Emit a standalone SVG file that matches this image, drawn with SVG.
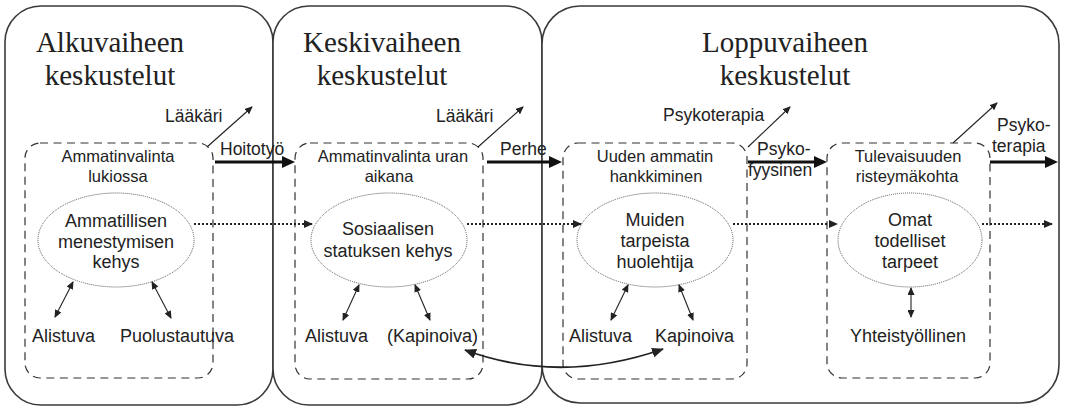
<svg xmlns="http://www.w3.org/2000/svg" width="1065" height="408" viewBox="0 0 1065 408">
<style>
.phase{fill:#fff;stroke:#3a3a3a;stroke-width:1.6}
.title{font-family:"Liberation Serif","Times New Roman",serif;font-size:29px;fill:#222;text-anchor:middle}
.dash{fill:none;stroke:#333;stroke-width:1.2;stroke-dasharray:8 5.5}
.ell{fill:#fff;stroke:#555;stroke-width:1;stroke-dasharray:1 1}
.lbl{font-family:"Liberation Sans",Arial,sans-serif;font-size:17.5px;fill:#222}
.bl{font-family:"Liberation Sans",Arial,sans-serif;font-size:18px;fill:#222}
.hd{font-family:"Liberation Sans",Arial,sans-serif;font-size:16.5px;fill:#222;text-anchor:middle}
.el{font-family:"Liberation Sans",Arial,sans-serif;font-size:18px;fill:#222;text-anchor:middle}
.thin{fill:none;stroke:#222;stroke-width:1.1}
.thick{fill:none;stroke:#111;stroke-width:3}
.dot{fill:none;stroke:#222;stroke-width:2;stroke-dasharray:2 2}
</style>
<defs>
<marker id="big" markerUnits="userSpaceOnUse" markerWidth="14" markerHeight="12" refX="3" refY="6" orient="auto"><path d="M0,0 L13,6 L0,12 z" fill="#111"/></marker>
<marker id="sm" markerUnits="userSpaceOnUse" markerWidth="8" markerHeight="7" refX="7" refY="3.5" orient="auto-start-reverse"><path d="M0,0 L8,3.5 L0,7 z" fill="#222"/></marker>
<marker id="dh" markerUnits="userSpaceOnUse" markerWidth="9" markerHeight="8" refX="8" refY="4" orient="auto"><path d="M0,0 L9,4 L0,8 z" fill="#222"/></marker>
<marker id="cv" markerUnits="userSpaceOnUse" markerWidth="12" markerHeight="10" refX="11" refY="5" orient="auto-start-reverse"><path d="M0,0 L12,5 L0,10 z" fill="#222"/></marker>
</defs>

<g id="phase-alku">
<rect class="phase" x="5" y="6" width="268" height="399" rx="36" ry="36"/>
<text class="title" x="110" y="52">Alkuvaiheen</text>
<text class="title" x="110" y="85">keskustelut</text>
</g>
<g id="phase-keski">
<rect class="phase" x="273" y="6" width="269" height="399" rx="36" ry="36"/>
<text class="title" x="382" y="52">Keskivaiheen</text>
<text class="title" x="382" y="85">keskustelut</text>
</g>
<g id="phase-loppu">
<rect class="phase" x="542" y="6" width="517" height="397" rx="38" ry="38"/>
<text class="title" x="785" y="52">Loppuvaiheen</text>
<text class="title" x="785" y="85">keskustelut</text>
</g>

<g id="stage1">
<rect class="dash" x="25" y="143" width="188" height="235" rx="15" ry="15"/>
<text class="hd" x="118" y="162">Ammatinvalinta</text>
<text class="hd" x="118" y="182">lukiossa</text>
<ellipse class="ell" cx="116" cy="240" rx="78" ry="47"/>
<text class="el" x="116" y="227">Ammatillisen</text>
<text class="el" x="116" y="248">menestymisen</text>
<text class="el" x="116" y="268">kehys</text>
<text class="bl" x="32" y="342">Alistuva</text>
<text class="bl" x="120" y="342">Puolustautuva</text>
</g>

<g id="stage2">
<rect class="dash" x="295" y="143" width="188" height="236" rx="15" ry="15"/>
<text class="hd" x="393" y="162">Ammatinvalinta uran</text>
<text class="hd" x="389" y="182">aikana</text>
<ellipse class="ell" cx="389" cy="240" rx="78" ry="47"/>
<text class="el" x="388" y="235">Sosiaalisen</text>
<text class="el" x="388" y="257">statuksen kehys</text>
<text class="bl" x="305" y="342">Alistuva</text>
<text class="bl" x="387" y="342">(Kapinoiva)</text>
</g>

<g id="stage3">
<rect class="dash" x="563" y="143" width="184" height="236" rx="15" ry="15"/>
<text class="hd" x="655" y="162">Uuden ammatin</text>
<text class="hd" x="656" y="182">hankkiminen</text>
<ellipse class="ell" cx="655" cy="240" rx="78" ry="47"/>
<text class="el" x="655" y="226">Muiden</text>
<text class="el" x="655" y="247">tarpeista</text>
<text class="el" x="655" y="268">huolehtija</text>
<text class="bl" x="569" y="342">Alistuva</text>
<text class="bl" x="655" y="342">Kapinoiva</text>
</g>

<g id="stage4">
<rect class="dash" x="827" y="143" width="163" height="235" rx="15" ry="15"/>
<text class="hd" x="908" y="162">Tulevaisuuden</text>
<text class="hd" x="907" y="182">risteymäkohta</text>
<ellipse class="ell" cx="910" cy="240" rx="72" ry="47"/>
<text class="el" x="910" y="226">Omat</text>
<text class="el" x="910" y="247">todelliset</text>
<text class="el" x="910" y="268">tarpeet</text>
<text class="bl" x="908" y="342" text-anchor="middle">Yhteistyöllinen</text>
</g>

<g id="connectors">
<line class="thin" x1="207" y1="147" x2="252" y2="107" marker-end="url(#sm)"/>
<text class="lbl" x="165" y="122">Lääkäri</text>
<line class="thick" x1="215" y1="162" x2="285" y2="162" marker-end="url(#big)"/>
<text class="lbl" x="220" y="155">Hoitotyö</text>
<line class="dot" x1="194" y1="224" x2="312" y2="224" marker-end="url(#dh)"/>
<line class="thin" x1="73" y1="282" x2="55" y2="317" marker-start="url(#sm)" marker-end="url(#sm)"/>
<line class="thin" x1="152" y1="282" x2="171" y2="318" marker-start="url(#sm)" marker-end="url(#sm)"/>

<line class="thin" x1="478" y1="147" x2="523" y2="107" marker-end="url(#sm)"/>
<text class="lbl" x="436" y="122">Lääkäri</text>
<line class="thick" x1="487" y1="162" x2="552" y2="162" marker-end="url(#big)"/>
<text class="lbl" x="500" y="155">Perhe</text>
<line class="dot" x1="467" y1="224" x2="581" y2="224" marker-end="url(#dh)"/>
<line class="thin" x1="359" y1="285" x2="343" y2="320" marker-start="url(#sm)" marker-end="url(#sm)"/>
<line class="thin" x1="415" y1="285" x2="430" y2="320" marker-start="url(#sm)" marker-end="url(#sm)"/>

<line class="thin" x1="748" y1="147" x2="790" y2="107" marker-end="url(#sm)"/>
<text class="lbl" x="663" y="121">Psykoterapia</text>
<line class="thick" x1="748" y1="162" x2="817" y2="162" marker-end="url(#big)"/>
<text class="lbl" x="757" y="155">Psyko-</text>
<text class="lbl" x="748" y="176">fyysinen</text>
<line class="dot" x1="733" y1="224" x2="837" y2="224" marker-end="url(#dh)"/>
<line class="thin" x1="628" y1="285" x2="611" y2="320" marker-start="url(#sm)" marker-end="url(#sm)"/>
<line class="thin" x1="679" y1="285" x2="693" y2="320" marker-start="url(#sm)" marker-end="url(#sm)"/>

<line class="thin" x1="953" y1="143" x2="997" y2="103" marker-end="url(#sm)"/>
<line class="thick" x1="990" y1="162" x2="1048" y2="162" marker-end="url(#big)"/>
<text class="lbl" x="997" y="131">Psyko-</text>
<text class="lbl" x="992" y="152">terapia</text>
<line class="dot" x1="982" y1="224" x2="1052" y2="224" marker-end="url(#dh)"/>
<line class="thin" x1="911" y1="288" x2="911" y2="317" marker-start="url(#sm)" marker-end="url(#sm)"/>

<path d="M465,350 Q560,385 663,349" fill="none" stroke="#222" stroke-width="1.8" marker-start="url(#cv)" marker-end="url(#cv)"/>
</g>
</svg>
